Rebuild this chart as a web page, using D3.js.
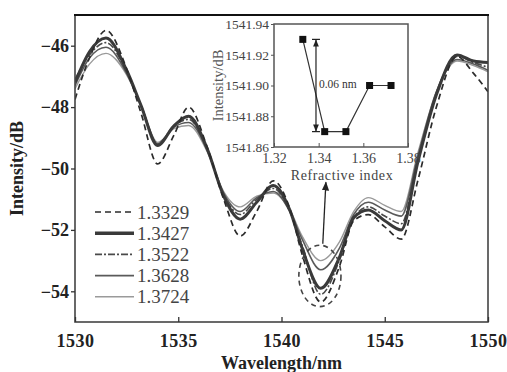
<!DOCTYPE html>
<html><head><meta charset="utf-8">
<script src="https://cdn.jsdelivr.net/npm/d3@7"></script>
<style>body{margin:0;background:#fff}svg{display:block}</style>
</head><body><svg id="c" width="507" height="372"></svg>
<script>
// ---- data ----
const wavelengths = [1530,1530.7,1531.5,1532.5,1533.2,1534.0,1534.8,1535.5,1536.4,1537.2,1538.0,1538.8,1539.6,1540.4,1541.0,1541.9,1542.8,1543.5,1544.2,1545.0,1545.8,1546.6,1547.5,1548.5,1549.3,1550];
const seriesNames = ["1.3329","1.3427","1.3522","1.3628","1.3724"];
const s13329 = [-47.75,-46.4,-45.5,-46.75,-48.2,-49.85,-48.9,-48.0,-49.3,-51.0,-52.2,-51.4,-50.4,-51.3,-52.8,-54.35,-53.2,-51.7,-51.5,-51.9,-52.3,-50.4,-48.0,-46.35,-46.9,-47.5];
const s13427 = [-47.2,-46.2,-45.75,-46.8,-47.95,-49.25,-48.6,-48.3,-49.35,-50.9,-51.65,-51.1,-50.55,-51.35,-52.6,-53.9,-52.9,-51.6,-51.35,-51.7,-52.0,-49.8,-47.6,-46.3,-46.5,-46.55];
const s13522 = [-47.1,-46.3,-45.9,-46.85,-47.95,-49.2,-48.6,-48.4,-49.35,-50.85,-51.5,-51.0,-50.65,-51.4,-52.5,-54.1,-53.0,-51.6,-51.25,-51.55,-51.8,-49.7,-47.55,-46.35,-46.55,-46.7];
const s13628 = [-47.3,-46.4,-46.05,-46.9,-47.95,-49.2,-48.65,-48.5,-49.4,-50.8,-51.4,-50.95,-50.75,-51.4,-52.3,-53.3,-52.6,-51.5,-51.1,-51.35,-51.55,-49.6,-47.5,-46.45,-46.6,-46.8];
const s13724 = [-47.4,-46.6,-46.25,-46.95,-47.95,-49.15,-48.7,-48.6,-49.45,-50.75,-51.25,-50.9,-50.8,-51.35,-52.2,-53.0,-52.4,-51.4,-50.95,-51.2,-51.4,-49.5,-47.5,-46.5,-46.65,-46.85];
const seriesValues = [s13329,s13427,s13522,s13628,s13724];
const xTicks = [1530,1535,1540,1545,1550];
const yTicks = [-46,-48,-50,-52,-54];

const insetIndex = [1.3329,1.3427,1.3522,1.3628,1.3724];
const insetWavelength = [1541.93,1541.87,1541.87,1541.90,1541.90];
const insetXTicks = [1.32,1.34,1.36,1.38];
const insetYTicks = [1541.86,1541.88,1541.90,1541.92,1541.94];

// ---- styles ----
const styles = [
  {color:"#2b2b2b", width:1.7, dash:"6,4"},
  {color:"#3a3a3a", width:3, dash:null},
  {color:"#4a4a4a", width:1.6, dash:"7,2,2,2"},
  {color:"#5a5a5a", width:1.6, dash:null},
  {color:"#9a9a9a", width:1.4, dash:null}
];
const serif = "'Liberation Serif','Times New Roman',serif";
const svg = d3.select("#c");

const L=75, R=488, T=15, B=322;
const x = d3.scaleLinear().domain([1530,1550]).range([L,R]);
const y = d3.scaleLinear().domain([-55,-45]).range([B,T]);

svg.append("defs").append("clipPath").attr("id","clip")
  .append("rect").attr("x",L).attr("y",T).attr("width",R-L).attr("height",B-T);

// curves
const line = d3.line().x(d=>x(d[0])).y(d=>y(d[1])).curve(d3.curveMonotoneX);
const order = [4,3,2,1,0];
const gC = svg.append("g").attr("clip-path","url(#clip)");
order.forEach(i=>{
  const pts = wavelengths.map((w,k)=>[w,seriesValues[i][k]]);
  gC.append("path").attr("d",line(pts)).attr("fill","none")
    .attr("stroke",styles[i].color).attr("stroke-width",styles[i].width)
    .attr("stroke-dasharray",styles[i].dash).attr("stroke-linejoin","round");
});

// ellipse annotation (data coords)
svg.append("ellipse").attr("cx",x(1541.86)).attr("cy",y(-53.5))
  .attr("rx",x(1531.02)-x(1530)).attr("ry",y(-54.0)-y(-53.0))
  .attr("fill","none").attr("stroke","#444").attr("stroke-width",1.6).attr("stroke-dasharray","5,4");

// arrow
svg.append("defs").append("marker").attr("id","ah").attr("viewBox","0 0 10 10")
  .attr("refX",9).attr("refY",5).attr("markerWidth",7).attr("markerHeight",7).attr("orient","auto")
  .append("path").attr("d","M0,1L10,5L0,9Z").attr("fill","#222");
svg.append("line").attr("x1",x(1542.0)).attr("y1",y(-52.45)).attr("x2",x(1542.15)).attr("y2",y(-50.45))
  .attr("stroke","#222").attr("stroke-width",1.3).attr("marker-end","url(#ah)");

// frame
svg.append("rect").attr("x",L).attr("y",T).attr("width",R-L).attr("height",B-T)
  .attr("fill","none").attr("stroke","#444").attr("stroke-width",1.6);
svg.append("line").attr("x1",L-1).attr("x2",R+1).attr("y1",T).attr("y2",T).attr("stroke","#111").attr("stroke-width",2);

// y axis (outward ticks)
const yAx = d3.axisLeft(y).tickValues(yTicks).tickSize(4).tickPadding(2)
  .tickFormat(d=>d3.format("")(d).replace("-","\u2212"));
const gy = svg.append("g").attr("transform",`translate(${L},0)`).call(yAx);
gy.select(".domain").remove();
gy.selectAll("line").attr("stroke","#333").attr("stroke-width",1.3);
gy.selectAll("text").attr("font-family",serif).attr("font-size",18).attr("font-weight","bold").attr("fill","#222");

// x axis (inward ticks)
const xAx = d3.axisBottom(x).tickValues(xTicks).tickSize(-5).tickPadding(12).tickFormat(d3.format("d"));
const gx = svg.append("g").attr("transform",`translate(0,${B})`).call(xAx);
gx.select(".domain").remove();
gx.selectAll("line").attr("stroke","#333").attr("stroke-width",1.3);
gx.selectAll("text").attr("font-family",serif).attr("font-size",18).attr("font-weight","bold").attr("fill","#222").attr("letter-spacing",0.5);

svg.append("text").attr("x",(L+R)/2).attr("y",369).attr("text-anchor","middle")
  .attr("font-family",serif).attr("font-size",18).attr("font-weight","bold").attr("fill","#222").text("Wavelength/nm");
svg.append("text").attr("transform",`translate(23,${(T+B)/2}) rotate(-90)`).attr("text-anchor","middle")
  .attr("font-family",serif).attr("font-size",18).attr("font-weight","bold").attr("fill","#222").text("Intensity/dB");

// legend
const lg = svg.append("g");
seriesNames.forEach((n,i)=>{
  const yy = 212 + i*21.2;
  lg.append("line").attr("x1",95).attr("x2",134).attr("y1",yy).attr("y2",yy)
    .attr("stroke",styles[i].color).attr("stroke-width",styles[i].width===3?3.5:styles[i].width)
    .attr("stroke-dasharray",styles[i].dash);
  lg.append("text").attr("x",137).attr("y",yy+6.5).attr("font-family",serif).attr("font-size",19)
    .attr("fill","#444").text(n);
});

// ---- inset ----
const iL=274, iR=408, iT=24, iB=147;
const ix = d3.scaleLinear().domain([1.32,1.38]).range([iL,iR]);
const iy = d3.scaleLinear().domain([1541.86,1541.94]).range([iB,iT]);
svg.append("rect").attr("x",iL).attr("y",iT).attr("width",iR-iL).attr("height",iB-iT)
  .attr("fill","#fff").attr("stroke","#555").attr("stroke-width",1.5);

const iyAx = d3.axisLeft(iy).tickValues(insetYTicks).tickSize(3).tickPadding(2).tickFormat(d3.format(".2f"));
const giy = svg.append("g").attr("transform",`translate(${iL},0)`).call(iyAx);
giy.select(".domain").remove();
giy.selectAll("line").attr("stroke","#555");
giy.selectAll("text").attr("font-family",serif).attr("font-size",13.5).attr("fill","#444");

const ixAx = d3.axisBottom(ix).tickValues(insetXTicks).tickSize(-4).tickPadding(6).tickFormat(d3.format(".2f"));
const gix = svg.append("g").attr("transform",`translate(0,${iB})`).call(ixAx);
gix.select(".domain").remove();
gix.selectAll("line").attr("stroke","#555");
gix.selectAll("text").attr("font-family",serif).attr("font-size",14).attr("fill","#444");

svg.append("text").attr("x",(iL+iR)/2+1).attr("y",180).attr("text-anchor","middle")
  .attr("font-family",serif).attr("font-size",14).attr("letter-spacing",0.6).attr("fill","#444").text("Refractive index");
svg.append("text").attr("transform",`translate(223,${(iT+iB)/2}) rotate(-90)`).attr("text-anchor","middle")
  .attr("font-family",serif).attr("font-size",14.5).attr("fill","#555").text("Intensity/dB");

// inset line + markers
const ipts = insetIndex.map((v,i)=>[v,insetWavelength[i]]);
svg.append("path").attr("d",d3.line().x(d=>ix(d[0])).y(d=>iy(d[1]))(ipts))
  .attr("fill","none").attr("stroke","#333").attr("stroke-width",1.2);
svg.selectAll(".mk").data(ipts).enter().append("rect")
  .attr("x",d=>ix(d[0])-3.5).attr("y",d=>iy(d[1])-3.5).attr("width",7).attr("height",7).attr("fill","#111");

// double arrow 0.06 nm
const ax0 = ix(1.3388);
const defs2 = svg.append("defs");
defs2.append("marker").attr("id","ah2").attr("viewBox","0 0 10 10")
  .attr("refX",10).attr("refY",5).attr("markerWidth",6).attr("markerHeight",6).attr("orient","auto-start-reverse")
  .append("path").attr("d","M0,1L10,5L0,9Z").attr("fill","#222");
svg.append("line").attr("x1",ax0).attr("x2",ax0).attr("y1",iy(1541.93)).attr("y2",iy(1541.87))
  .attr("stroke","#222").attr("stroke-width",1.2)
  .attr("marker-start","url(#ah2)").attr("marker-end","url(#ah2)");
[1541.93,1541.87].forEach(v=>{
  svg.append("line").attr("x1",ax0-4).attr("x2",ax0+4).attr("y1",iy(v)).attr("y2",iy(v))
    .attr("stroke","#222").attr("stroke-width",1.2);
});
svg.append("text").attr("x",ax0+3).attr("y",iy(1541.9)+2).attr("font-family",serif).attr("font-size",11.5)
  .attr("fill","#333").text("0.06 nm");
</script></body></html>
